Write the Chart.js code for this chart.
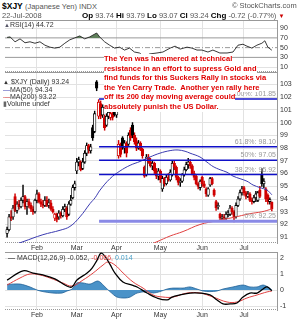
<!DOCTYPE html>
<html><head><meta charset="utf-8">
<script src="https://cdn.jsdelivr.net/npm/chart.js@4.4.1/dist/chart.umd.min.js"></script>
<style>
html,body{margin:0;padding:0;background:#fff;width:299px;height:320px;overflow:hidden;font-family:'Liberation Sans',Arial,sans-serif;font-size:7px;}
canvas{position:absolute;left:0;}
.t{position:absolute;white-space:nowrap;line-height:1;z-index:5;}
.ann{position:absolute;left:104px;top:54px;z-index:6;color:#e00000;font-weight:bold;font-size:7.5px;line-height:9.6px;}
.ann div{background:#fff;width:fit-content;white-space:nowrap;}
.g{color:#555}
</style></head><body>
<canvas id="rsi" width="299" height="58" style="top:16px"></canvas>
<canvas id="price" width="299" height="187" style="top:68px"></canvas>
<canvas id="macd" width="299" height="74" style="top:248px"></canvas>

<div class="t" style="left:2px;top:1.5px;font-size:7.5px;"><b style="font-size:8.5px">$XJY</b> <span class="g">(Japanese Yen) INDX</span></div>
<div class="t g" style="left:232px;top:2px;font-size:7.5px">© StockCharts.com</div>
<div class="t g" style="left:2px;top:12px;font-size:7.5px">22-Jul-2008</div>
<div class="t" style="left:82px;top:12px;font-size:7.5px"><b style="font-size:8px">Op</b> <span class="g">93.74</span> <b style="font-size:8px">Hi</b> <span class="g">93.79</span> <b style="font-size:8px">Lo</b> <span class="g">93.07</span> <b style="font-size:8px">Cl</b> <span class="g">93.24</span> <b style="font-size:8px">Chg</b> <span class="g">-0.72 (-0.77%)</span> <span style="color:#c00;font-size:6px">▼</span></div>
<div class="t" style="left:4px;top:20.5px;font-size:7px;color:#333"><span style="color:#556;font-size:6px">▲</span>RSI(14) 44.72</div>

<div class="t" style="left:3px;top:77.5px;font-size:7px;color:#333;line-height:7px">
<div><span style="font-size:6px">▲</span> $XJY (Daily) 93.24</div>
<div><span style="color:#3a3ab0">—</span>MA(50) 94.34</div>
<div><span style="color:#e04040">—</span>MA(200) 93.22</div>
<div><span style="color:#666">▮</span>Volume undef</div>
</div>

<div class="ann">
<div>The Yen was hammered at technical</div>
<div>resistance in an effort to supress Gold and</div>
<div>find funds for this Suckers Rally in stocks via</div>
<div>the Yen Carry Trade.&nbsp; Another yen rally here</div>
<div>off its 200 day moving average could</div>
<div>absolutely punish the US Dollar.</div>
</div>

<div class="t" style="left:8px;top:253.5px;font-size:7px;color:#333"><span style="color:#000">—</span> MACD(12,26,9) -0.052, <span style="color:#e04040">-0.066,</span> <span style="color:#4aa0c8">0.014</span></div>

<script>
// ---------- DATA ----------
const months   = ['Feb','Mar','Apr','May','Jun','Jul'];
const monthIdx = [15, 35, 55, 77, 98, 119];           // trading-day index of first day of month
const priceTicks = [91,92,93,94,95,96,97,98,99,100,101,102,103];
const rsiTicks   = [10,30,50,70,90];
const macdTicks  = [-1,0,1,2];

// daily OHLC, 10-Jan-2008 .. 22-Jul-2008 (134 trading days)
const open = [
91.3,91.6,92.6,92.6,94.2,93.1,93.6,93.4,93.9,94.2,93.4,93.8,93.5,93.2,93.0,
93.9,94.4,93.8,93.6,93.5,93.9,93.5,93.7,93.2,92.5,92.8,92.6,92.9,92.7,93.2,93.3,92.8,93.6,94.1,94.9,
96.2,96.9,96.9,96.4,96.9,97.6,98.2,97.8,99.6,99.3,103.2,100.5,101.5,100.6,100.4,99.8,100.5,100.4,100.7,101.2,
100.6,97.4,98.3,98.8,98.0,98.4,98.3,99.4,99.8,99.0,98.5,98.0,98.4,97.9,96.5,95.9,97.3,96.9,96.6,96.8,96.2,95.8,
96.2,94.8,95.6,95.2,95.7,95.5,95.9,96.8,96.5,95.7,95.3,95.4,95.9,96.3,96.7,96.9,96.6,96.0,95.8,95.2,94.9,
95.7,95.2,94.8,94.3,95.1,95.6,94.7,93.8,93.4,92.8,92.5,92.6,92.5,92.8,92.8,93.3,93.0,92.6,93.5,94.0,94.5,
94.9,94.5,94.2,94.4,93.9,93.8,94.1,93.9,94.7,95.9,95.2,94.8,94.3,93.8,93.74];
const high = [
91.8,92.8,93.1,93.5,94.4,93.8,93.9,94.1,95.1,94.3,94.0,94.0,93.7,93.4,94.0,
94.7,94.5,94.0,93.9,94.2,94.2,94.0,93.9,93.4,92.9,92.9,93.1,93.0,93.4,93.6,93.4,93.8,94.3,95.1,95.4,
97.2,97.3,97.0,97.2,97.8,98.4,98.3,98.3,99.8,100.9,103.3,101.8,101.7,101.4,100.6,100.7,101.1,100.9,100.8,101.3,
101.2,98.6,98.4,98.9,98.6,98.5,99.2,99.6,100.0,99.2,98.8,98.6,98.5,98.0,96.6,97.5,97.5,97.2,97.0,96.9,96.4,96.4,
96.3,95.8,95.7,95.9,96.0,96.3,97.0,97.0,96.6,95.8,95.6,96.0,96.5,96.9,97.2,97.1,96.7,96.2,95.9,95.3,95.5,
95.8,95.4,94.9,94.9,95.7,95.7,94.8,93.9,93.7,92.9,92.8,92.8,93.0,93.1,93.5,93.4,93.1,93.7,94.2,94.7,95.0,
95.0,94.6,94.6,94.5,94.1,94.3,94.6,94.6,95.0,96.4,95.6,94.9,94.4,94.1,93.79];
const low = [
91.0,91.5,92.3,92.4,93.0,92.9,93.2,93.3,93.7,93.2,92.8,93.3,93.0,92.8,92.9,
93.7,93.7,93.4,93.3,93.4,93.4,93.3,93.1,92.9,92.3,92.2,92.4,92.5,92.6,93.0,92.4,92.7,93.5,94.0,94.7,
96.0,96.6,96.2,96.3,96.8,97.4,97.6,97.6,98.6,99.2,102.5,100.3,100.3,100.4,99.4,99.7,100.3,100.2,100.2,100.5,
100.4,97.2,97.3,97.9,97.6,97.3,98.2,98.6,98.8,98.3,97.8,97.9,97.8,97.2,95.7,95.8,96.8,96.5,96.3,96.0,95.6,95.5,
95.3,94.6,95.0,95.1,95.4,95.4,95.8,96.3,95.5,95.1,95.0,95.3,95.8,96.2,96.4,96.4,95.9,95.5,95.1,94.8,94.7,
95.0,94.9,94.2,94.2,95.0,95.1,94.2,93.1,93.2,92.3,92.3,92.4,92.4,92.6,92.7,92.8,92.2,92.5,93.4,93.9,94.3,
94.3,94.0,94.1,93.8,93.6,93.7,93.8,93.8,94.1,95.0,94.9,93.8,93.6,93.6,93.07];
const close = [
91.6,92.6,92.5,93.3,93.1,93.6,93.4,93.9,94.2,93.4,93.8,93.5,93.2,93.0,93.9,
94.4,93.8,93.6,93.5,93.9,93.5,93.7,93.2,93.0,92.8,92.4,92.9,92.7,93.2,93.4,92.6,93.6,93.9,94.9,95.2,
96.9,97.1,96.3,96.9,97.6,98.2,97.9,98.1,98.8,100.7,102.7,101.6,100.5,101.2,99.6,100.5,100.8,100.7,100.4,100.6,
101.0,98.3,97.5,98.1,98.4,97.6,99.0,98.8,99.0,98.5,98.0,98.4,97.9,97.4,95.8,97.3,96.9,96.6,96.8,96.2,95.8,96.2,
95.5,95.6,95.2,95.7,95.5,96.1,96.8,96.5,95.7,95.3,95.4,95.9,96.3,96.7,96.9,96.6,96.0,95.7,95.2,95.0,95.4,
95.2,95.0,94.4,94.8,95.6,95.2,94.3,93.3,93.5,92.5,92.6,92.5,92.8,92.9,93.3,93.0,92.6,93.5,94.0,94.5,94.8,
94.5,94.2,94.4,93.9,93.8,94.1,94.4,94.5,94.2,95.2,95.4,94.0,93.8,93.96,93.24];

// moving averages: [day index, value]
const ma50 = [[0,90.2],[8,90.65],[18,91.2],[26.6,91.55],[31.6,91.85],[36.6,92.6],[41.7,93.65],[44.2,94.1],[46.7,94.7],[51.7,95.6],[56.7,96.2],[61.8,96.65],[66.8,96.95],[71.8,97.3],[76.8,97.6],[81.9,97.8],[85.9,97.85],[89.4,97.75],[91.9,97.6],[96.9,97.3],[100.4,96.9],[103.5,96.55],[107,96.3],[110.5,96.1],[113.5,95.8],[117,95.6],[120.5,95.4],[123.6,95.1],[127,94.9],[130.6,94.7],[133,94.34]];
const ma200 = [[70,90.3],[75.3,90.65],[81.9,91.1],[88.4,91.45],[96.9,92.0],[105.5,92.3],[113.5,92.55],[122,92.85],[128,93.0],[133,93.22]];

// Fibonacci retracement levels
const fibNames  = ['100%','61.8%','50%','38.2%','0%'];
const fibLevels = [101.85, 98.10, 97.05, 95.92, 92.25];
const fibStart  = 46.2;

// RSI(14): [day index, value]
const rsi = [[0,71],[1.5,72],[4,62],[6.5,68],[9,60],[11.5,62],[14,59],[16.5,62],[19,55],[21.5,51],[24,49],[26.5,51],[29,59],[31.5,66],[34,70],[36.5,74],[39,68],[41.5,72],[45,80],[46.5,72],[49,62],[51.5,55],[54,49],[56.5,51],[59,45],[61.5,49],[64,41],[66.5,39],[69,31],[71.5,37],[75.3,39],[78.3,41],[81.9,49],[84.4,53],[86.9,47],[90.4,51],[92.9,49],[95.4,45],[97.9,45],[100.9,41],[103.4,45],[106.9,39],[110.5,39],[113.5,41],[116,55],[118.5,57],[120.5,53],[123,49],[125.5,55],[128,59],[129.5,64],[131,51],[133,44.72]];

// MACD(12,26,9): [day index, value]
const macd = [[0,0.62],[8,1.2],[13,1.06],[18,0.94],[24,0.69],[30,0.25],[32.6,0.19],[35.1,0.62],[40.2,1.06],[42.7,1.37],[45.2,1.87],[47.2,2.3],[49.2,2.1],[51.7,1.6],[54.2,1.06],[58.2,0.5],[62.8,0.3],[65.3,0.19],[70.3,-0.19],[75.3,-0.5],[80.4,-0.62],[82.9,-0.44],[86.9,-0.31],[91.9,-0.19],[96.9,-0.19],[101.9,-0.31],[105.5,-0.62],[108.5,-0.87],[112,-0.87],[115.5,-0.81],[118.5,-0.44],[122,-0.19],[125.6,-0.19],[128.6,0.06],[130.6,0.19],[133,-0.052]];
const signal = [[0,0.31],[6.5,0.75],[11.5,1.0],[16.5,0.94],[21.5,0.75],[28,0.44],[32.6,0.25],[38.1,0.62],[43.2,1.06],[48.2,1.56],[50.7,1.75],[54.2,1.56],[58.3,1.06],[63.3,0.5],[68.3,0.12],[73.3,-0.31],[78.3,-0.44],[83.4,-0.44],[90.4,-0.19],[96.9,-0.19],[103.5,-0.44],[110.5,-0.75],[115.5,-0.75],[120.5,-0.5],[125.6,-0.31],[130.6,-0.12],[133,-0.066]];
const hist = [[0,0.35],[6.5,0.37],[11.5,0.19],[15,0],[18,-0.1],[23,-0.19],[27.6,-0.19],[30.1,-0.06],[32.6,0.05],[35.1,0.44],[38.1,0.44],[41.7,0.37],[45.2,0.56],[46.7,0.5],[49.2,0.19],[51.7,-0.1],[55.2,-0.44],[59.2,-0.5],[61.8,-0.44],[65.3,-0.19],[70.3,-0.1],[73.4,-0.19],[76.8,-0.1],[80.4,0.06],[83.4,0.12],[88.4,0.12],[91.9,0.19],[95.4,0.06],[98.4,-0.06],[101.9,-0.1],[105.5,-0.06],[108.5,0.06],[113.5,0.19],[118.5,0.31],[122,0.19],[125.6,0.19],[128.6,0.31],[131,0.19],[133,0.014]];

// ---------- CHARTS ----------
const XMIN = -1.05, XMAX = 135.6;
Chart.defaults.font.family = "'Liberation Sans', Arial, sans-serif";
Chart.defaults.font.size = 7;
Chart.defaults.color = '#333';
const pts = a => a.map(p => ({x:p[0], y:p[1]}));

function xAxis(show){
  return {type:'linear', min:XMIN, max:XMAX, offset:false,
    afterBuildTicks: s => { s.ticks = monthIdx.map(v => ({value:v})); },
    afterFit: s => { s.height = show ? 12 : 0; s.paddingLeft = 0; s.paddingRight = 0; },
    ticks:{display:show, autoSkip:false, maxRotation:0, minRotation:0, padding:1, color:'#333', callback:(v,i) => months[i]},
    grid:{color:'#e2e2e2', drawTicks:false, offset:false},
    border:{display:false}};
}
function yAxis(min, max, ticks, gridColor){
  return {position:'right', min, max,
    afterBuildTicks: s => { s.ticks = ticks.map(v => ({value:v})); },
    afterFit: s => { s.width = 22; s.paddingTop = 0; s.paddingBottom = 0; },
    ticks:{padding:3, color:'#333', callback: v => String(v)},
    grid:{color:gridColor, drawTicks:false},
    border:{display:true, color:'#999'}};
}
const frame = {id:'frame', beforeDatasetsDraw(c){
  const a = c.chartArea, x = c.ctx; x.save(); x.strokeStyle = '#999'; x.lineWidth = 1;
  x.beginPath(); x.moveTo(a.left, a.top + 0.5); x.lineTo(a.right, a.top + 0.5); x.stroke();
  x.setLineDash([1,1]); x.beginPath(); x.moveTo(a.left, a.bottom - 0.5); x.lineTo(a.right, a.bottom - 0.5); x.stroke();
  x.restore(); }};
const base = {responsive:false, animation:false, devicePixelRatio:1,
  plugins:{legend:{display:false}, tooltip:{enabled:false}}};

// RSI
new Chart(document.getElementById('rsi'), {
  type:'line',
  data:{datasets:[
    {data:pts(rsi), borderColor:'#222', borderWidth:0.9, pointRadius:0, tension:0,
     fill:{target:{value:70}, above:'#5f7f5a', below:'rgba(0,0,0,0)'}},
    {data:[{x:XMIN,y:70},{x:XMAX,y:70}], borderColor:'#999', borderWidth:1, pointRadius:0},
    {data:[{x:XMIN,y:50},{x:XMAX,y:50}], borderColor:'#999', borderWidth:1, borderDash:[5,2,1,2], pointRadius:0},
    {data:[{x:XMIN,y:30},{x:XMAX,y:30}], borderColor:'#999', borderWidth:1, pointRadius:0}
  ]},
  options:Object.assign({}, base, {layout:{padding:{left:5, top:4, right:0, bottom:2}},
    scales:{x:xAxis(false), y:yAxis(0, 106.7, rsiTicks, ctx => [30,50,70].includes(ctx.tick && ctx.tick.value) ? 'rgba(0,0,0,0)' : '#e2e2e2')}}),
  plugins:[frame]
});

// PRICE
const days = close.map((_, i) => i);
const col = close.map((c, i) => (i === 0 || c >= close[i-1]) ? '#000' : '#d00000');
const bodyBg = close.map((c, i) => c > open[i] ? '#fff' : col[i]);
const fibLabels = {id:'fibLabels', afterDatasetsDraw(c){
  const y = c.scales.y, x = c.ctx; x.save(); x.font = "7px 'Liberation Sans', Arial, sans-serif";
  x.fillStyle = '#999'; x.textAlign = 'right'; x.textBaseline = 'alphabetic';
  fibLevels.forEach((v, i) => x.fillText(fibNames[i] + ': ' + v.toFixed(2), c.chartArea.right - 1, y.getPixelForValue(v) - 3));
  x.restore(); }};
const fibSets = fibLevels.map((v, i) => ({type:'line', data:[{x:fibStart,y:v},{x:XMAX,y:v}],
  borderColor: i === 4 ? '#8a8ae6' : '#1010c8', borderWidth: i === 4 ? 3 : 1.6, pointRadius:0}));
new Chart(document.getElementById('price'), {
  type:'bar',
  data:{datasets:[
    ...fibSets,
    {type:'line', data:pts(ma50), borderColor:'#3a3ab0', borderWidth:1, pointRadius:0, tension:0.4},
    {type:'line', data:pts(ma200), borderColor:'#e04040', borderWidth:1, pointRadius:0, tension:0.4},
    {type:'bar', data:days.map(i => ({x:i, y:[open[i], close[i]]})), backgroundColor:bodyBg, borderColor:col,
     borderWidth:0.8, borderSkipped:false, barThickness:2.6, grouped:false},
    {type:'bar', data:days.map(i => ({x:i, y:[low[i], high[i]]})), backgroundColor:col, barThickness:0.8, grouped:false}
  ]},
  options:Object.assign({}, base, {layout:{padding:{left:5, top:4, right:0, bottom:0}},
    scales:{x:xAxis(true), y:yAxis(90.55, 103.97, priceTicks, '#e2e2e2')}}),
  plugins:[frame, fibLabels]
});

// MACD
new Chart(document.getElementById('macd'), {
  type:'line',
  data:{datasets:[
    {data:pts(macd), borderColor:'#000', borderWidth:1.3, pointRadius:0, tension:0.4},
    {data:pts(signal), borderColor:'#e04040', borderWidth:1, pointRadius:0, tension:0.4},
    {data:pts(hist), borderColor:'#1f5f95', borderWidth:0.8, backgroundColor:'#4a92c8', fill:'origin', pointRadius:0, tension:0.3}
  ]},
  options:Object.assign({}, base, {layout:{padding:{left:5, top:4, right:0, bottom:0}},
    scales:{x:xAxis(true), y:yAxis(-1.25, 2.375, macdTicks, '#e2e2e2')}}),
  plugins:[frame]
});
</script>
</body></html>
